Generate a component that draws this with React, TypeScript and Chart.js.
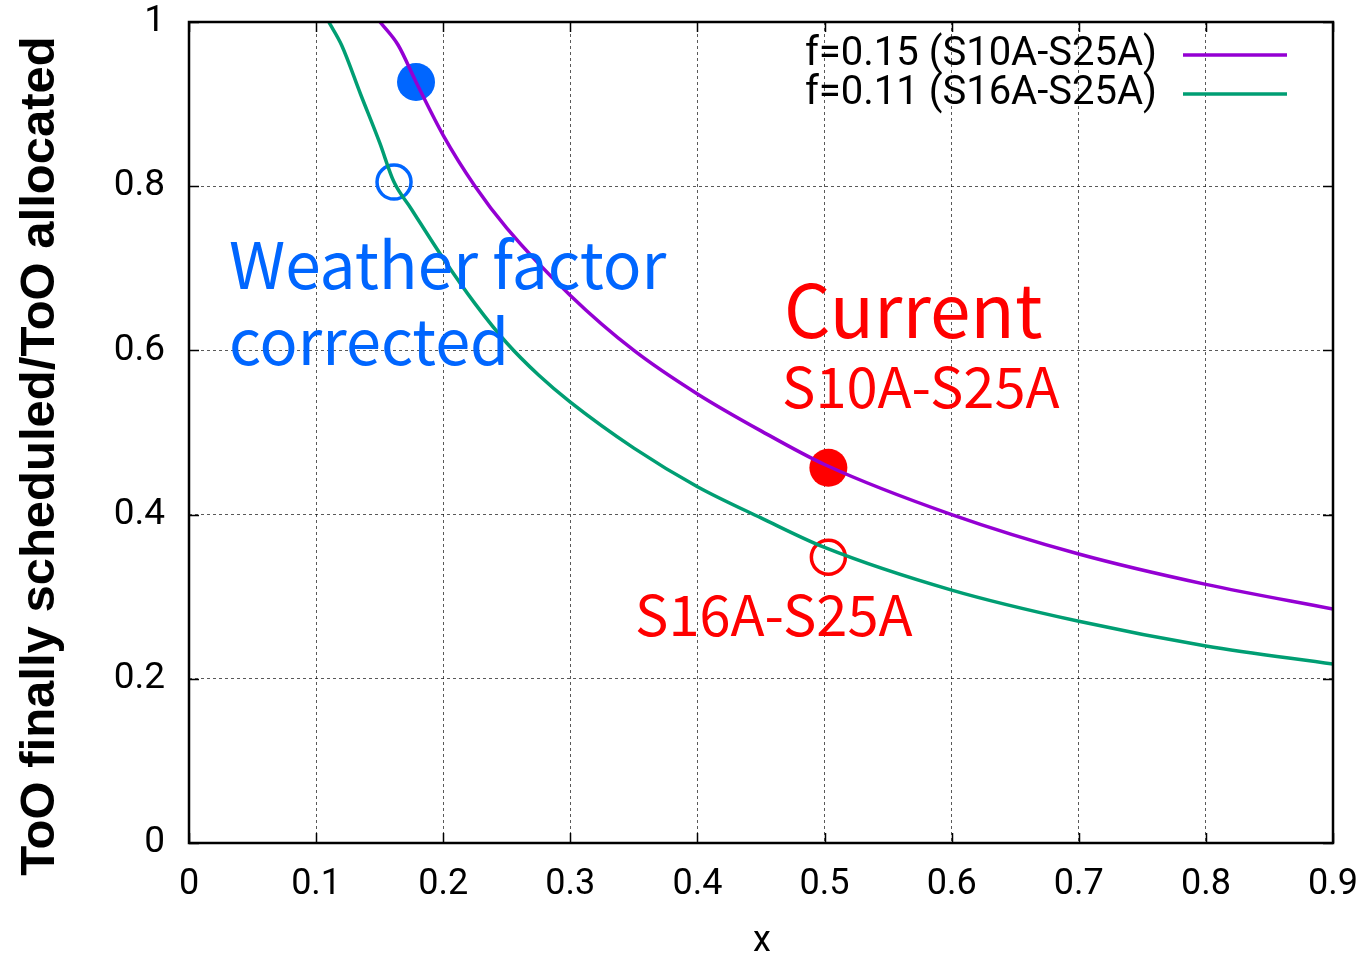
import React, { useEffect, useRef } from "react";
import { Chart, registerables } from "chart.js";

Chart.register(...registerables);

// ---- data ----
const seriesLabels = ["f=0.15 (S10A-S25A)", "f=0.11 (S16A-S25A)"];

const purpleX = [0.1503, 0.1645, 0.1786, 0.2, 0.225, 0.25, 0.3, 0.35, 0.4, 0.45, 0.5, 0.6, 0.7, 0.8, 0.9];
const purpleY = [1.0, 0.972, 0.927, 0.862, 0.8, 0.749, 0.667, 0.6, 0.547, 0.502, 0.461, 0.4, 0.352, 0.315, 0.285];

const greenX = [0.11, 0.12, 0.135, 0.15, 0.161, 0.175, 0.2, 0.225, 0.25, 0.275, 0.3, 0.35, 0.4, 0.45, 0.5, 0.6, 0.7, 0.8, 0.9];
const greenY = [1.0, 0.972, 0.912, 0.853, 0.806, 0.772, 0.712, 0.657, 0.609, 0.57, 0.537, 0.481, 0.434, 0.396, 0.36, 0.308, 0.27, 0.24, 0.218];

const blueFilled = [{ x: 0.1786, y: 0.927 }];
const blueOpen = [{ x: 0.1613, y: 0.805 }];
const redFilled = [{ x: 0.503, y: 0.457 }];
const redOpen = [{ x: 0.503, y: 0.348 }];

const xTicks = [0, 0.1, 0.2, 0.3, 0.4, 0.5, 0.6, 0.7, 0.8, 0.9];
const yTicks = [0, 0.2, 0.4, 0.6, 0.8, 1];

const xTitle = "x";
const yTitle = "ToO finally scheduled/ToO allocated";

const annotationTexts = ["Weather factor", "corrected", "Current", "S10A-S25A", "S16A-S25A"];

// ---- styles ----
const PURPLE = "#9400D3";
const GREEN = "#009E73";
const BLUE = "#0066FF";
const RED = "#FF0000";
const TICK_FONT = "Roboto, 'Noto Sans', sans-serif";
const NOTE_FONT = "'Noto Sans CJK JP', 'Noto Sans', sans-serif";

const toPts = (xs: number[], ys: number[]) => xs.map((x, i) => ({ x, y: ys[i] }));
const fmt = (v: number) => String(Number(v.toFixed(1)));

const decorPlugin = {
  id: "decor",
  afterDatasetsDraw(chart: any) {
    const { ctx, chartArea: a, scales } = chart;
    const xs = scales.x;
    const ys = scales.y;
    ctx.save();
    // inward ticks
    ctx.strokeStyle = "#000";
    ctx.lineWidth = 1.5;
    ctx.setLineDash([]);
    const tl = 10;
    xTicks.forEach((t) => {
      const px = Math.round(xs.getPixelForValue(t)) + 0.5;
      ctx.beginPath();
      ctx.moveTo(px, a.bottom);
      ctx.lineTo(px, a.bottom - tl);
      ctx.moveTo(px, a.top);
      ctx.lineTo(px, a.top + tl);
      ctx.stroke();
    });
    yTicks.forEach((t) => {
      const py = Math.round(ys.getPixelForValue(t)) + 0.5;
      ctx.beginPath();
      ctx.moveTo(a.left, py);
      ctx.lineTo(a.left + tl, py);
      ctx.moveTo(a.right, py);
      ctx.lineTo(a.right - tl, py);
      ctx.stroke();
    });
    // frame
    ctx.lineWidth = 2.5;
    ctx.strokeRect(a.left, a.top, a.right - a.left, a.bottom - a.top);

    // legend
    ctx.font = `40px ${TICK_FONT}`;
    ctx.textAlign = "right";
    ctx.textBaseline = "middle";
    const legendColors = [PURPLE, GREEN];
    const legendY = [55, 94];
    seriesLabels.forEach((lab, i) => {
      ctx.fillStyle = "#000";
      ctx.fillText(lab, 1157, legendY[i]);
      ctx.strokeStyle = legendColors[i];
      ctx.lineWidth = 3.5;
      ctx.beginPath();
      ctx.moveTo(1183, legendY[i]);
      ctx.lineTo(1287, legendY[i]);
      ctx.stroke();
    });

    // annotations
    ctx.textAlign = "left";
    ctx.textBaseline = "alphabetic";
    const notes = [
      { t: annotationTexts[0], x: 229, y: 289, size: 64, color: BLUE },
      { t: annotationTexts[1], x: 229, y: 365, size: 63, color: BLUE },
      { t: annotationTexts[2], x: 784, y: 338, size: 73, color: RED },
      { t: annotationTexts[3], x: 782, y: 408, size: 56, color: RED },
      { t: annotationTexts[4], x: 635, y: 636, size: 56, color: RED },
    ];
    notes.forEach((n) => {
      ctx.font = `${n.size}px ${NOTE_FONT}`;
      ctx.fillStyle = n.color;
      ctx.fillText(n.t, n.x, n.y);
    });

    // axis titles
    ctx.fillStyle = "#000";
    ctx.font = `36px ${TICK_FONT}`;
    ctx.textAlign = "center";
    ctx.textBaseline = "middle";
    ctx.fillText(xTitle, 762, 942);

    ctx.save();
    ctx.translate(40, 456);
    ctx.rotate(-Math.PI / 2);
    ctx.font = `bold 49px 'Liberation Sans', Arial, sans-serif`;
    ctx.fillText(yTitle, 0, 0);
    ctx.restore();

    ctx.restore();
  },
};

export default function App() {
  const ref = useRef<HTMLCanvasElement | null>(null);
  useEffect(() => {
    if (!ref.current) return;
    const chart = new Chart(ref.current, {
      type: "scatter",
      data: {
        datasets: [
          {
            label: seriesLabels[0],
            data: toPts(purpleX, purpleY),
            showLine: true,
            borderColor: PURPLE,
            borderWidth: 3.5,
            pointRadius: 0,
            cubicInterpolationMode: "monotone",
          },
          {
            label: seriesLabels[1],
            data: toPts(greenX, greenY),
            showLine: true,
            borderColor: GREEN,
            borderWidth: 3.5,
            pointRadius: 0,
            cubicInterpolationMode: "monotone",
          },
          {
            label: "blue filled",
            data: blueFilled,
            pointRadius: 19,
            pointBackgroundColor: BLUE,
            pointBorderWidth: 0,
            clip: false,
          },
          {
            label: "blue open",
            data: blueOpen,
            pointRadius: 17,
            pointBackgroundColor: "rgba(0,0,0,0)",
            pointBorderColor: BLUE,
            pointBorderWidth: 3.5,
            clip: false,
          },
          {
            label: "red filled",
            data: redFilled,
            pointRadius: 19,
            pointBackgroundColor: RED,
            pointBorderWidth: 0,
            clip: false,
          },
          {
            label: "red open",
            data: redOpen,
            pointRadius: 17,
            pointBackgroundColor: "rgba(0,0,0,0)",
            pointBorderColor: RED,
            pointBorderWidth: 3.5,
            clip: false,
          },
        ] as any,
      },
      options: {
        animation: false,
        responsive: false,
        layout: { padding: { left: 0, right: 35, top: 22, bottom: 0 } },
        plugins: { legend: { display: false }, tooltip: { enabled: false } },
        scales: {
          x: {
            type: "linear",
            min: 0,
            max: 0.9,
            afterBuildTicks: (s: any) => {
              s.ticks = xTicks.map((v) => ({ value: v }));
            },
            afterFit: (s: any) => {
              s.height = 113;
              s.paddingLeft = 0;
              s.paddingRight = 0;
              s.paddingTop = 0;
              s.paddingBottom = 0;
            },
            ticks: {
              callback: (v: any) => fmt(Number(v)),
              color: "#000",
              font: { family: TICK_FONT, size: 36 },
              padding: 20,
              maxRotation: 0,
              autoSkip: false,
            },
            grid: { color: "rgba(0,0,0,0.65)", lineWidth: 1, drawTicks: false },
            border: { display: false, dash: [3, 3] },
          },
          y: {
            type: "linear",
            min: 0,
            max: 1,
            afterBuildTicks: (s: any) => {
              s.ticks = yTicks.map((v) => ({ value: v }));
            },
            afterFit: (s: any) => {
              s.width = 189;
              s.paddingLeft = 0;
              s.paddingRight = 0;
              s.paddingTop = 0;
              s.paddingBottom = 0;
            },
            ticks: {
              callback: (v: any) => fmt(Number(v)),
              color: "#000",
              font: { family: TICK_FONT, size: 37 },
              padding: 24,
              autoSkip: false,
            },
            grid: { color: "rgba(0,0,0,0.65)", lineWidth: 1, drawTicks: false },
            border: { display: false, dash: [3, 3] },
          },
        },
      },
      plugins: [decorPlugin],
    } as any);
    return () => chart.destroy();
  }, []);
  return (
    <div style={{ position: "fixed", left: 0, top: 0, width: 1368, height: 956, background: "#fff" }}>
      <canvas ref={ref} width={1368} height={956} />
    </div>
  );
}
